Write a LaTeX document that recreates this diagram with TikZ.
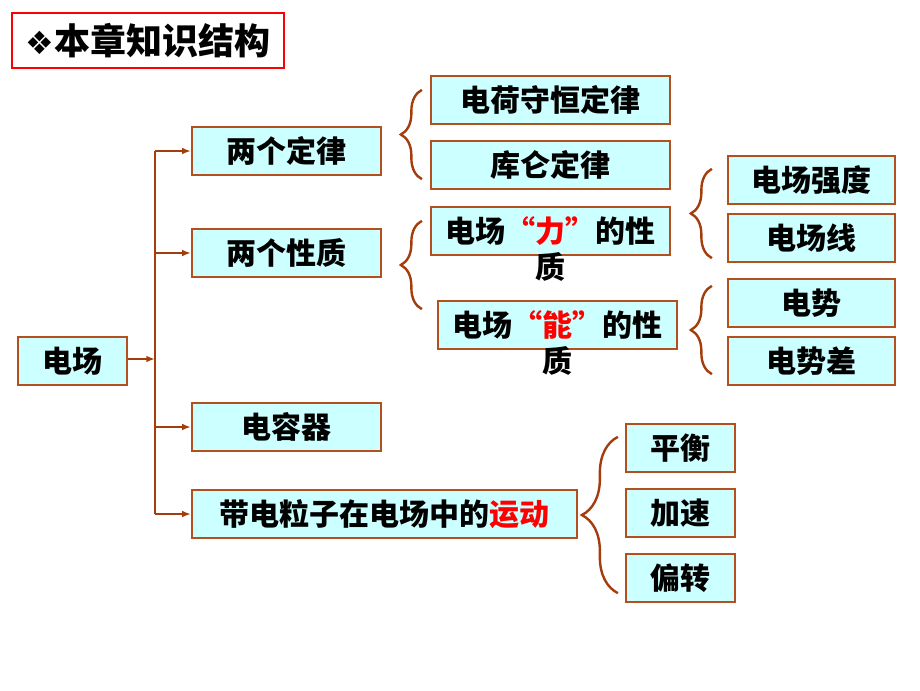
\documentclass[tikz,border=0pt]{standalone}
\usepackage{fontspec}
\newfontfamily\cjk{Noto Sans CJK SC}
\newfontfamily\symfont{DejaVu Sans}
\usetikzlibrary{arrows.meta,positioning,calc,decorations.pathreplacing}
\definecolor{BoxFill}{HTML}{CCFFFF}
\definecolor{BoxEdge}{HTML}{B4501E}
\definecolor{LinkBrown}{HTML}{A33D0C}
\definecolor{KeyRed}{HTML}{FF0000}

\begin{document}
\begin{tikzpicture}[
  x=0.75pt,
  y=-0.75pt,
  font=\cjk\bfseries\fontsize{22.5}{26}\selectfont,
  topic/.style={draw=BoxEdge, fill=BoxFill, line width=1.7pt, inner sep=0pt, minimum height=36pt},
  rootbox/.style={topic, minimum width=81.75pt},
  midbox/.style={topic, minimum width=141.75pt},
  subbox/.style={topic, minimum width=179.25pt},
  leafbox/.style={topic, minimum width=125.25pt},
  smallbox/.style={topic, minimum width=81.75pt},
  link/.style={draw=LinkBrown, line width=1.8pt, -{Latex[length=6.5pt,width=5pt]}},
  trunkline/.style={draw=LinkBrown, line width=1.8pt},
  bracket/.style={draw=LinkBrown, line width=1.8pt, decorate, decoration={brace, amplitude=#1}}
]
\useasboundingbox (0,0) rectangle (920,690);

% title
\node[draw=KeyRed, line width=2.2pt, minimum width=204pt, minimum height=41.25pt, inner sep=0pt,
  font=\cjk\bfseries\fontsize{27}{30}\selectfont] (title) at (148,40.5) {{\symfont\fontsize{24}{26}\selectfont ❖}本章知识结构};

% main branches
\node[rootbox] (root) at (72.5,361) {电场};
\node[midbox] (law) at (286.5,151) {两个定律};
\node[midbox] (prop) at (286.5,253) {两个性质};
\node[midbox] (cap) at (286.5,427) {电容器};
\node[topic, minimum width=288.75pt] (move) at (384.5,514) {带电粒子在电场中的\textcolor{KeyRed}{运动}};

\coordinate (trunk) at (155,359);
\draw[trunkline] (trunk |- law.west) -- (trunk |- move.west);
\draw[link] (root.east |- trunk) -- (trunk);
\foreach \dst in {law, prop, cap, move}
  \draw[link] (trunk |- \dst.west) -- (\dst.west);

% laws
\node[subbox] (charge) at (550.5,100) {电荷守恒定律};
\node[subbox] (coulomb) at (550.5,165) {库仑定律};
\draw[bracket=15.75pt] ($(coulomb.south west)+(-8,-11)$) -- ($(charge.north west)+(-8,15)$);

% properties
\node[subbox] (force) at (550.5,231) {电场\textcolor{KeyRed}{“力”}的性};
\node (forceq) at (550.5,267) {质};
\node[subbox] (energy) at (557.5,325) {电场\textcolor{KeyRed}{“能”}的性};
\node (energyq) at (557.5,361) {质};
\draw[bracket=15.75pt] ($(energy.south west)+(-15,-41)$) -- ($(force.north west)+(-8,15)$);

\node[leafbox] (strength) at (811.5,180) {电场强度};
\node[leafbox] (fieldline) at (811.5,238) {电场线};
\draw[bracket=15.75pt] ($(fieldline.south west)+(-15,-5)$) -- ($(strength.north west)+(-15,14)$);

\node[leafbox] (potential) at (811.5,303) {电势};
\node[leafbox] (pdiff) at (811.5,361) {电势差};
\draw[bracket=15.75pt] ($(pdiff.south west)+(-15,-12)$) -- ($(potential.north west)+(-15,8)$);

% motion
\node[smallbox] (balance) at (680.5,448) {平衡};
\node[smallbox] (accel) at (680.5,513) {加速};
\node[smallbox] (deflect) at (680.5,578) {偏转};
\draw[bracket=27pt] ($(deflect.south west)+(-7,-10)$) -- ($(balance.north west)+(-7,14)$);
\end{tikzpicture}
\end{document}
